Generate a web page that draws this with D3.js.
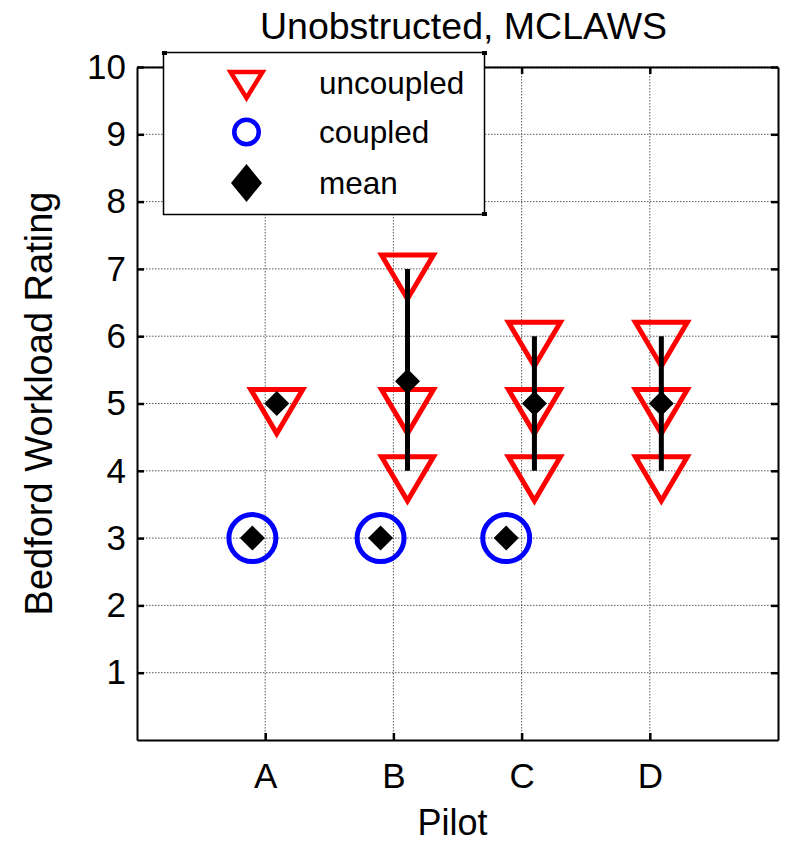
<!DOCTYPE html>
<html>
<head>
<meta charset="utf-8">
<script src="https://cdn.jsdelivr.net/npm/d3@7"></script>
<style>
  body { margin: 0; background: #fff; }
  svg text { font-family: "Liberation Sans", Arial, Helvetica, sans-serif; fill: #000; }
</style>
</head>
<body>
<div id="chart"></div>
<script>
// values
const pilots = ["A", "B", "C", "D"];
const uncoupled = [[5], [7, 5, 4], [6, 5, 4], [6, 5, 4]];
const coupled = [[3], [3], [3], []];
const uncoupledX = [1.09, 2.11, 3.1, 4.09];
const coupledX = [0.9, 1.9, 2.88, null];
const uncoupledMean = [5, 5.33, 5, 5];
const coupledMean = [3, 3, 3, null];
const barLow = [null, 4, 4, 4];
const barHigh = [null, 7, 6, 6];
const yTicks = [1, 2, 3, 4, 5, 6, 7, 8, 9, 10];
const legendLabels = ["uncoupled", "coupled", "mean"];

const width = 789, height = 844;
const plotLeft = 137, plotRight = 778, plotTop = 67, plotBottom = 740;

const svg = d3.select("#chart").append("svg")
    .attr("width", width)
    .attr("height", height);

const x = d3.scaleLinear().domain([0, 5]).range([plotLeft, plotRight]);
const y = d3.scaleLinear().domain([0, 10]).range([plotBottom, plotTop]);

// grid
const grid = svg.append("g")
    .attr("stroke", "#5a5a5a")
    .attr("stroke-width", 1)
    .attr("stroke-dasharray", "1.5,1.5");
grid.selectAll(".gy").data(yTicks).enter().append("line")
    .attr("x1", plotLeft).attr("x2", plotRight)
    .attr("y1", d => y(d)).attr("y2", d => y(d));
grid.selectAll(".gx").data(pilots).enter().append("line")
    .attr("x1", (d, i) => x(i + 1)).attr("x2", (d, i) => x(i + 1))
    .attr("y1", plotTop).attr("y2", plotBottom);

// axes (MATLAB style box with inward ticks)
const yAxisL = d3.axisLeft(y).tickValues(yTicks).tickSize(-7).tickPadding(11).tickSizeOuter(0);
const yAxisR = d3.axisRight(y).tickValues(yTicks).tickSize(-7).tickFormat("").tickSizeOuter(0);
const xAxisB = d3.axisBottom(x).tickValues([1, 2, 3, 4]).tickFormat((d) => pilots[d - 1])
    .tickSize(-7).tickPadding(23).tickSizeOuter(0);
const xAxisT = d3.axisTop(x).tickValues([1, 2, 3, 4]).tickFormat("").tickSize(-7).tickSizeOuter(0);

function styleAxis(g) {
    g.select(".domain").attr("stroke", "#000").attr("stroke-width", 2);
    g.selectAll(".tick line").attr("stroke", "#000").attr("stroke-width", 2.5);
    g.selectAll(".tick text").attr("font-size", 35).attr("font-family", null);
}

svg.append("g").attr("transform", `translate(${plotLeft},0)`).call(yAxisL).call(styleAxis);
svg.append("g").attr("transform", `translate(${plotRight},0)`).call(yAxisR).call(styleAxis);
svg.append("g").attr("transform", `translate(0,${plotBottom})`).call(xAxisB).call(styleAxis);
svg.append("g").attr("transform", `translate(0,${plotTop})`).call(xAxisT).call(styleAxis);

// markers
const tri = (w, t, b) => `M${-w},${-t}L${w},${-t}L0,${b}Z`;
const diamond = (hw, hh) => `M0,${-hh}L${hw},0L0,${hh}L${-hw},0Z`;

const plot = svg.append("g");

const triPts = [];
uncoupled.forEach((vals, i) => vals.forEach(v => triPts.push({ x: uncoupledX[i], v })));
plot.selectAll(".tri").data(triPts).enter().append("path")
    .attr("d", tri(26, 14, 30))
    .attr("transform", d => `translate(${x(d.x)},${y(d.v)})`)
    .attr("fill", "none")
    .attr("stroke", "#ff0000")
    .attr("stroke-width", 5);

const circPts = [];
coupled.forEach((vals, i) => vals.forEach(v => circPts.push({ x: coupledX[i], v })));
plot.selectAll(".circ").data(circPts).enter().append("circle")
    .attr("cx", d => x(d.x)).attr("cy", d => y(d.v))
    .attr("r", 23.5)
    .attr("fill", "none")
    .attr("stroke", "#0000ff")
    .attr("stroke-width", 5);

plot.selectAll(".bar").data(pilots.map((p, i) => i).filter(i => barLow[i] != null)).enter().append("line")
    .attr("x1", i => x(uncoupledX[i])).attr("x2", i => x(uncoupledX[i]))
    .attr("y1", i => y(barHigh[i])).attr("y2", i => y(barLow[i]))
    .attr("stroke", "#000")
    .attr("stroke-width", 5);

const meanPts = [];
pilots.forEach((p, i) => {
    if (uncoupledMean[i] != null) meanPts.push({ x: uncoupledX[i], v: uncoupledMean[i] });
    if (coupledMean[i] != null) meanPts.push({ x: coupledX[i], v: coupledMean[i] });
});
plot.selectAll(".mean").data(meanPts).enter().append("path")
    .attr("d", diamond(12.5, 12.5))
    .attr("transform", d => `translate(${x(d.x)},${y(d.v)})`)
    .attr("fill", "#000");

// legend
const legend = svg.append("g");
legend.append("rect")
    .attr("x", 163.5).attr("y", 52.5)
    .attr("width", 321).attr("height", 162)
    .attr("fill", "#fff")
    .attr("stroke", "#000")
    .attr("stroke-width", 1.5);
[[162, 51], [482, 51], [482, 212]].forEach(c => {
    legend.append("rect").attr("x", c[0]).attr("y", c[1]).attr("width", 5).attr("height", 4).attr("fill", "#000");
});

const legendY = [83, 132, 183];
const lx = 246.5;
legend.append("path")
    .attr("d", tri(16, 11, 15))
    .attr("transform", `translate(${lx},${legendY[0]})`)
    .attr("fill", "none").attr("stroke", "#ff0000").attr("stroke-width", 4.5);
legend.append("circle")
    .attr("cx", lx).attr("cy", legendY[1]).attr("r", 12.25)
    .attr("fill", "none").attr("stroke", "#0000ff").attr("stroke-width", 4.5);
legend.append("path")
    .attr("d", diamond(15.5, 19))
    .attr("transform", `translate(${lx},${legendY[2]})`)
    .attr("fill", "#000");
legend.selectAll(".lt").data(legendLabels).enter().append("text")
    .attr("x", 319)
    .attr("y", (d, i) => legendY[i] + 11)
    .attr("font-size", 31.5)
    .text(d => d);

// titles
svg.append("text")
    .attr("x", (plotLeft + plotRight) / 2 + 6).attr("y", 39)
    .attr("text-anchor", "middle")
    .attr("font-size", 37.5)
    .text("Unobstructed, MCLAWS");

svg.append("text")
    .attr("x", (plotLeft + plotRight) / 2 - 5).attr("y", 835)
    .attr("text-anchor", "middle")
    .attr("font-size", 36)
    .text("Pilot");

svg.append("text")
    .attr("transform", `translate(52,${(plotTop + plotBottom) / 2}) rotate(-90)`)
    .attr("text-anchor", "middle")
    .attr("font-size", 38)
    .text("Bedford Workload Rating");
</script>
</body>
</html>
